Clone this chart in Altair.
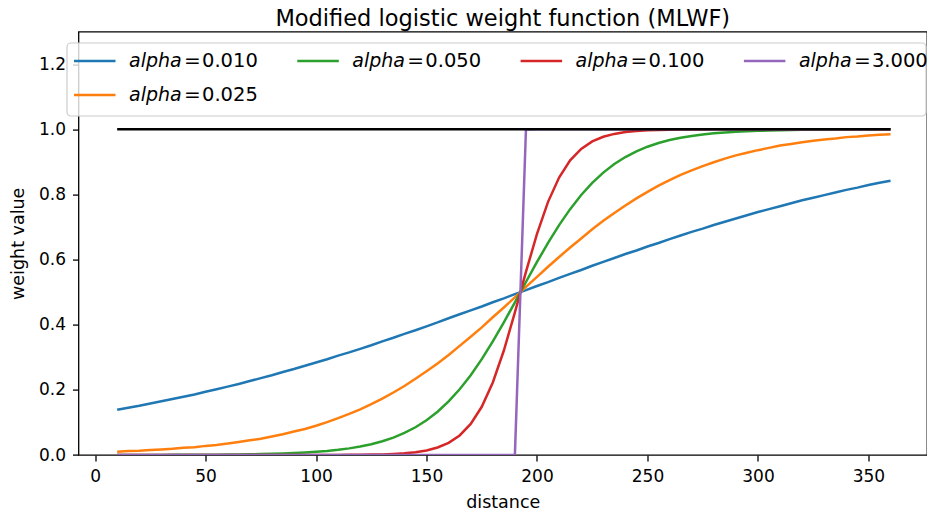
import altair as alt
import pandas as pd

# ---- data ----
distance = [10, 15, 20, 25, 30, 35, 40, 45, 50, 55, 60, 65, 70, 75, 80, 85, 90, 95,
            100, 105, 110, 115, 120, 125, 130, 135, 140, 145, 150, 155, 160, 165,
            170, 175, 180, 185, 190, 195, 200, 205, 210, 215, 220, 225, 230, 235,
            240, 245, 250, 255, 260, 265, 270, 275, 280, 285, 290, 295, 300, 305,
            310, 315, 320, 325, 330, 335, 340, 345, 350, 355, 360]

w_010 = [0.139, 0.145, 0.151, 0.158, 0.165, 0.172, 0.179, 0.186, 0.194, 0.202,
         0.210, 0.218, 0.227, 0.236, 0.245, 0.255, 0.264, 0.274, 0.284, 0.294,
         0.305, 0.315, 0.326, 0.337, 0.349, 0.360, 0.372, 0.383, 0.395, 0.407,
         0.420, 0.432, 0.444, 0.456, 0.469, 0.481, 0.494, 0.506, 0.519, 0.531,
         0.544, 0.556, 0.568, 0.581, 0.593, 0.605, 0.617, 0.628, 0.640, 0.651,
         0.663, 0.674, 0.685, 0.695, 0.706, 0.716, 0.726, 0.736, 0.746, 0.755,
         0.764, 0.773, 0.782, 0.790, 0.798, 0.806, 0.814, 0.821, 0.829, 0.836, 0.842]

w_025 = [0.010, 0.012, 0.013, 0.015, 0.017, 0.019, 0.022, 0.024, 0.028, 0.031,
         0.035, 0.040, 0.045, 0.050, 0.057, 0.064, 0.072, 0.080, 0.090, 0.101,
         0.113, 0.126, 0.140, 0.156, 0.173, 0.192, 0.212, 0.234, 0.257, 0.281,
         0.307, 0.335, 0.363, 0.392, 0.423, 0.453, 0.484, 0.516, 0.547, 0.578,
         0.608, 0.637, 0.665, 0.693, 0.719, 0.743, 0.766, 0.788, 0.808, 0.827,
         0.844, 0.860, 0.874, 0.887, 0.899, 0.910, 0.920, 0.928, 0.936, 0.943,
         0.950, 0.955, 0.960, 0.965, 0.969, 0.972, 0.976, 0.978, 0.981, 0.983, 0.985]

w_050 = [0.0001, 0.0001, 0.0002, 0.0002, 0.0003, 0.0004, 0.0005, 0.0006, 0.0008, 0.0010,
         0.0013, 0.0017, 0.0022, 0.0028, 0.0036, 0.0046, 0.0059, 0.0076, 0.0097, 0.0124,
         0.0159, 0.0203, 0.0260, 0.0331, 0.0421, 0.0534, 0.0676, 0.0851, 0.1067, 0.1330,
         0.1645, 0.2018, 0.2451, 0.2942, 0.3487, 0.4073, 0.4688, 0.5312, 0.5927, 0.6513,
         0.7058, 0.7549, 0.7982, 0.8355, 0.8670, 0.8933, 0.9149, 0.9325, 0.9466, 0.9579,
         0.9669, 0.9740, 0.9797, 0.9841, 0.9876, 0.9903, 0.9924, 0.9941, 0.9954, 0.9964,
         0.9972, 0.9978, 0.9983, 0.9987, 0.9990, 0.9992, 0.9994, 0.9995, 0.9996, 0.9997, 0.9998]

w_100 = ([0.0] * 18 +
         [0.0001, 0.0002, 0.0003, 0.0004, 0.0007, 0.0012, 0.0019, 0.0032, 0.0052, 0.0086,
          0.0141, 0.0230, 0.0373, 0.0601, 0.0954, 0.1480, 0.2227, 0.3208, 0.4378, 0.5622,
          0.6792, 0.7773, 0.8520, 0.9047, 0.9399, 0.9627, 0.9770, 0.9859, 0.9914, 0.9948,
          0.9968, 0.9981, 0.9988, 0.9993, 0.9996, 0.9997, 0.9998, 0.9999] +
         [1.0] * 15)

w_3000 = [0.0] * 36 + [0.0006, 0.9994] + [1.0] * 33

ref_distance = [10, 360]
ref_weight = [1.0, 1.0]

alpha_labels = ["0.010", "0.025", "0.050", "0.100", "3.000"]
series = [w_010, w_025, w_050, w_100, w_3000]
colors = ["#1f77b4", "#ff7f0e", "#2ca02c", "#d62728", "#9467bd"]

rows = []
for lab, vals in zip(alpha_labels, series):
    for d, v in zip(distance, vals):
        rows.append({"distance": d, "weight": v, "alpha": lab})
df = pd.DataFrame(rows)
ref_df = pd.DataFrame({"distance": ref_distance, "weight": ref_weight})

FONT = "DejaVu Sans"
W, H = 848.5, 423.4

xscale = alt.Scale(domain=[-7.5, 376.5], nice=False, zero=False)
yscale = alt.Scale(domain=[0, 1.3], nice=False)

lines = alt.Chart(df).mark_line(strokeWidth=2.5, clip=True).encode(
    x=alt.X("distance:Q", scale=xscale, title="distance",
            axis=alt.Axis(values=[0, 50, 100, 150, 200, 250, 300, 350], format="d")),
    y=alt.Y("weight:Q", scale=yscale, title="weight value",
            axis=alt.Axis(values=[0, 0.2, 0.4, 0.6, 0.8, 1.0, 1.2], format=".1f")),
    color=alt.Color("alpha:N", scale=alt.Scale(domain=alpha_labels, range=colors), legend=None),
    order=alt.Order("distance:Q"),
)

ref_line = alt.Chart(ref_df).mark_line(strokeWidth=2.5, color="black").encode(
    x=alt.X("distance:Q", scale=xscale),
    y=alt.Y("weight:Q", scale=yscale),
)

# ---- custom legend (matplotlib style, column-major, 4 columns) ----
one = pd.DataFrame({"k": [0]})
legend_layers = [
    alt.Chart(one).mark_rect(fill="white", fillOpacity=0.8, stroke="#cccccc",
                             strokeWidth=1.2, cornerRadius=4).encode(
        x=alt.value(-11.5), x2=alt.value(847.5), y=alt.value(11.4), y2=alt.value(84.4))
]
col_x = [0, 223.3, 446.6, 669.9]
row_y = [29.5, 63.5]
slots = [(0, 0), (0, 1), (1, 0), (2, 0), (3, 0)]
for lab, col, (c, r) in zip(alpha_labels, colors, slots):
    x0 = -4.5 + col_x[c]
    y0 = row_y[r]
    tx = 50.5 + col_x[c]
    legend_layers.append(
        alt.Chart(one).mark_rule(color=col, strokeWidth=2.5).encode(
            x=alt.value(x0), x2=alt.value(x0 + 41.5), y=alt.value(y0)))
    legend_layers.append(
        alt.Chart(one).mark_text(text="alpha", font=FONT, fontSize=19, fontStyle="italic",
                                 align="left", baseline="middle", color="black").encode(
            x=alt.value(tx), y=alt.value(y0)))
    legend_layers.append(
        alt.Chart(one).mark_text(text="=", font=FONT, fontSize=20,
                                 align="left", baseline="middle", color="black").encode(
            x=alt.value(tx + 55), y=alt.value(y0)))
    legend_layers.append(
        alt.Chart(one).mark_text(text=lab, font=FONT, fontSize=19.5,
                                 align="left", baseline="middle", color="black").encode(
            x=alt.value(tx + 73), y=alt.value(y0)))

chart = alt.layer(lines, ref_line, *legend_layers).properties(
    width=W, height=H,
    title=alt.Title("Modified logistic weight function (MLWF)", anchor="middle",
                    font=FONT, fontSize=22.5, fontWeight="normal", color="black", offset=1),
    autosize=alt.AutoSizeParams(type="none"),
    padding={"left": 70.5, "top": 23.6, "right": 0, "bottom": 55},
).configure_view(
    stroke="black", strokeWidth=1.3
).configure_axis(
    grid=False, domain=False, ticks=True, tickColor="black", tickSize=6, tickWidth=1.3,
    labelFont=FONT, labelFontSize=17, labelColor="black", labelPadding=7,
    titleFont=FONT, titleFontSize=17.5, titleFontWeight="normal", titleColor="black",
).configure_axisX(titlePadding=9).configure_axisY(titlePadding=11)

chart.save("out.html", embed_options={"renderer": "svg", "actions": False})
